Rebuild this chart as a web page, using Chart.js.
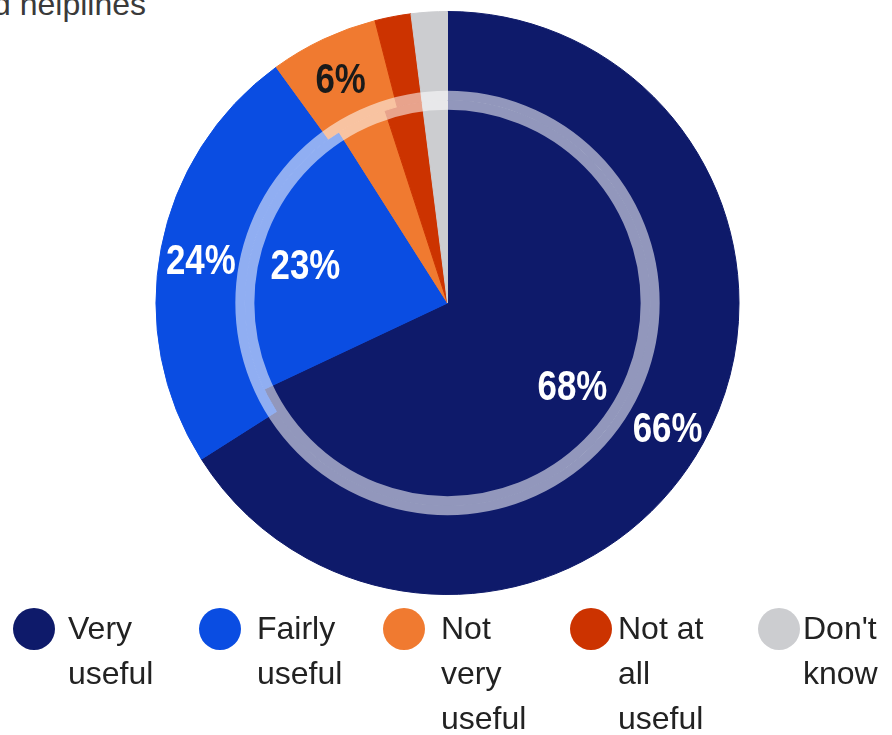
<!DOCTYPE html>
<html><head><meta charset="utf-8">
<script src="https://cdn.jsdelivr.net/npm/chart.js@4/dist/chart.umd.min.js"></script>
<style>
html,body{margin:0;padding:0;background:#fff;overflow:hidden;}
#wrap{position:relative;width:892px;height:735px;overflow:hidden;}
#c{position:absolute;left:0;top:0;width:892px;height:735px;}
#title{position:absolute;left:-7px;top:-14px;font:32px "Liberation Sans",Arial,sans-serif;color:#3a3a3a;white-space:nowrap;}
.txt{position:absolute;top:606px;font:32px/45px "Liberation Sans",Arial,sans-serif;color:#222;white-space:nowrap;}
.dot{position:absolute;width:42px;height:42px;border-radius:50%;top:608px;}
</style></head>
<body><div id="wrap"><div id="title">d helplines</div><canvas id="c" width="892" height="735"></canvas><div id="legend"></div></div>
<script>
const categories = ["Very useful","Fairly useful","Not very useful","Not at all useful","Don't know"];
const legendLines = [["Very","useful"],["Fairly","useful"],["Not","very","useful"],["Not at","all","useful"],["Don't","know"]];
const outerValues = [66,24,6,2,2];
const innerValues = [68,23,4,3,2];
const colors = ["#0e1a6a","#0a4de2","#f07a30","#cc3300","#cccdd0"];

const labelPlugin = {
  id: 'pctLabels',
  afterDatasetsDraw(chart) {
    const ctx = chart.ctx;
    const inner = chart.getDatasetMeta(1).data[0];
    ctx.save();
    ctx.beginPath();
    ctx.arc(inner.x, inner.y, inner.outerRadius, 0, Math.PI * 2);
    ctx.lineWidth = 19;
    ctx.strokeStyle = 'rgba(255,255,255,0.55)';
    ctx.stroke();
    ctx.font = 'bold 42px "Liberation Sans",Arial,sans-serif';
    ctx.textAlign = 'center';
    ctx.textBaseline = 'middle';
    chart.data.datasets.forEach((ds, di) => {
      const meta = chart.getDatasetMeta(di);
      meta.data.forEach((arc, i) => {
        const v = ds.data[i];
        if (v < 5) return;
        const p = arc.getProps(['x', 'y', 'startAngle', 'endAngle', 'innerRadius', 'outerRadius']);
        const mid = (p.startAngle + p.endAngle) / 2;
        const r = di === 0 ? (p.innerRadius + p.outerRadius) / 2 + 4 : p.outerRadius * 0.73;
        const tx = p.x + Math.cos(mid) * r;
        const ty = p.y + Math.sin(mid) * r + 6;
        ctx.save();
        ctx.translate(tx, ty);
        ctx.scale(0.83, 1);
        ctx.fillStyle = i === 2 ? '#1a1a1a' : '#ffffff';
        ctx.fillText(v + '%', 0, 0);
        ctx.restore();
      });
    });
    ctx.restore();
  }
};

const chart = new Chart(document.getElementById('c'), {
  type: 'pie',
  data: {
    labels: categories,
    datasets: [
      { data: outerValues, backgroundColor: colors, borderColor: colors, borderWidth: 1, weight: 89 },
      { data: innerValues, backgroundColor: colors, borderColor: colors, borderWidth: 1, weight: 203 }
    ]
  },
  options: {
    responsive: false,
    animation: false,
    devicePixelRatio: 1,
    layout: { padding: { left: 155, right: 152, top: 11, bottom: 140 } },
    plugins: { legend: { display: false }, tooltip: { enabled: false } }
  },
  plugins: [labelPlugin]
});

const dotX = [13, 199, 383, 570, 758];
const txtX = [68, 257, 441, 618, 803];
const leg = document.getElementById('legend');
categories.forEach((c, i) => {
  const d = document.createElement('div');
  d.className = 'dot';
  d.style.left = dotX[i] + 'px';
  d.style.background = colors[i];
  leg.appendChild(d);
  const t = document.createElement('div');
  t.className = 'txt';
  t.style.left = txtX[i] + 'px';
  t.innerHTML = legendLines[i].join('<br>');
  leg.appendChild(t);
});
</script>
</body></html>
